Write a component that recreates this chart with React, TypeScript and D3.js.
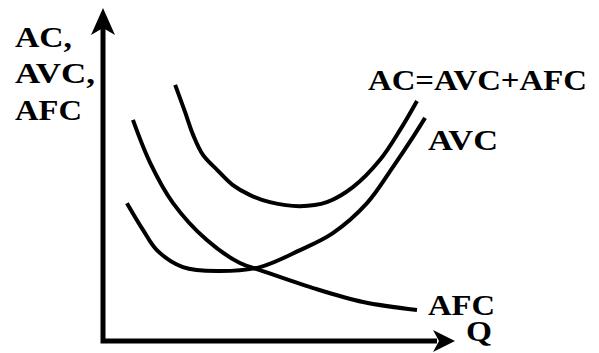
import React, { useEffect, useRef } from 'react'
import * as d3 from 'd3'

// curve points, in chart units (Q 0..100, cost 0..100)
const acQ = [20.5, 23.3, 25.6, 28.4, 32.4, 36.9, 41.8, 47.4, 56.0, 63.6, 71.0, 78.7, 84.4, 89.2]
const acCost = [76.9, 68.8, 61.9, 55.9, 51.4, 46.8, 43.8, 41.7, 40.5, 41.7, 46.2, 54.4, 63.4, 72.1]

const avcQ = [6.8, 11.4, 15.3, 22.7, 32.4, 44.6, 56.0, 65.3, 75.0, 82.4, 88.1, 91.5]
const avcCost = [41.4, 33.3, 27.3, 22.2, 21.0, 22.2, 27.3, 32.4, 41.4, 52.3, 61.3, 67.0]

const afcQ = [8.5, 13.4, 19.9, 29.5, 38.9, 44.6, 59.7, 73.9, 89.2]
const afcCost = [66.4, 53.5, 41.4, 30.3, 23.4, 21.3, 15.9, 11.7, 9.3]

const labels = [
  { text: 'AC,', x: 15, y: 47, w: 57 },
  { text: 'AVC,', x: 15, y: 83, w: 80 },
  { text: 'AFC', x: 15, y: 120, w: 67 },
  { text: 'AC=AVC+AFC', x: 368, y: 90, w: 219 },
  { text: 'AVC', x: 428, y: 150, w: 70 },
  { text: 'AFC', x: 428, y: 315, w: 67 },
  { text: 'Q', x: 466, y: 341, w: 26 },
]

const W = 599
const H = 353

export default function App() {
  const ref = useRef<SVGSVGElement>(null)

  useEffect(() => {
    document.body.style.margin = '0'
    const svg = d3.select(ref.current)
    svg.selectAll('*').remove()

    const x = d3.scaleLinear().domain([0, 100]).range([103, 455])
    const y = d3.scaleLinear().domain([0, 100]).range([341, 8])

    const line = d3.line<[number, number]>()
      .x(d => x(d[0]))
      .y(d => y(d[1]))
      .curve(d3.curveCatmullRom.alpha(0.5))

    const series = [
      d3.zip(acQ, acCost),
      d3.zip(avcQ, avcCost),
      d3.zip(afcQ, afcCost),
    ] as [number, number][][]

    svg.append('g')
      .selectAll('path')
      .data(series)
      .enter()
      .append('path')
      .attr('d', d => line(d))
      .attr('fill', 'none')
      .attr('stroke', 'black')
      .attr('stroke-width', 4)

    // axes
    const x0 = x(0), y0 = y(0), xEnd = x(100), yEnd = y(100)
    svg.append('path')
      .attr('d', `M${x0},${yEnd + 20}V${y0}H${xEnd - 18}`)
      .attr('fill', 'none')
      .attr('stroke', 'black')
      .attr('stroke-width', 5)

    svg.append('path')
      .attr('d', `M${x0},${yEnd}L${x0 + 12},${yEnd + 27}L${x0},${yEnd + 20}L${x0 - 12},${yEnd + 27}Z`)
      .attr('fill', 'black')
    svg.append('path')
      .attr('d', `M${xEnd},${y0}L${xEnd - 22},${y0 + 11}L${xEnd - 16},${y0}L${xEnd - 22},${y0 - 11}Z`)
      .attr('fill', 'black')

    // labels: serif bold, stretched a little sideways like the original
    svg.selectAll('text.lbl')
      .data(labels)
      .enter()
      .append('text')
      .attr('class', 'lbl')
      .attr('font-family', 'Times New Roman')
      .attr('font-weight', 'bold')
      .attr('font-size', 30)
      .text(d => d.text)
      .each(function (d) {
        const el = this as SVGTextElement
        const len = el.getComputedTextLength() || d.w
        const sx = d.w / len
        d3.select(el).attr('transform', `translate(${d.x},${d.y}) scale(${sx},1)`)
      })
  }, [])

  return <svg ref={ref} width={W} height={H} style={{ display: 'block' }} />
}
